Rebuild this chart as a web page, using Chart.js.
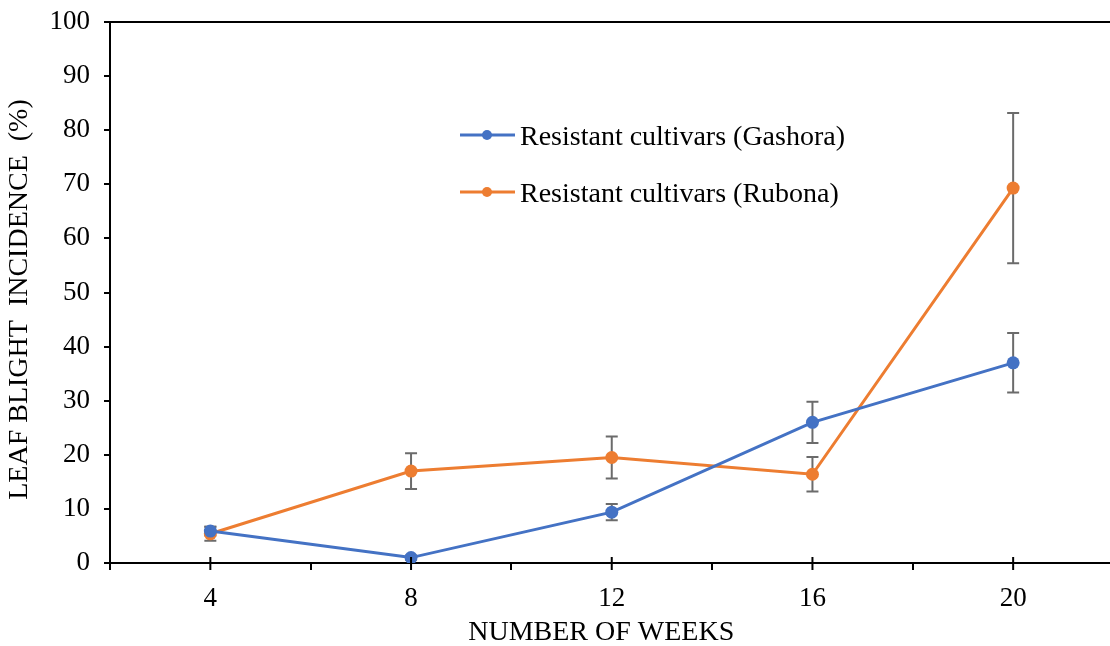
<!DOCTYPE html>
<html>
<head>
<meta charset="utf-8">
<script src="https://cdn.jsdelivr.net/npm/chart.js@4"></script>
<style>
  html, body { margin: 0; padding: 0; background: #fff; overflow: hidden; }
  #wrap { width: 1110px; height: 646px; overflow: hidden; }
</style>
</head>
<body>
<div id="wrap"><canvas id="chart" width="1120" height="646"></canvas></div>
<script>
const weeks = ['4', '8', '12', '16', '20'];
const gashora = [5.9, 1.0, 9.4, 26.0, 37.0];
const gashoraErr = [0.8, 0.4, 1.5, 3.8, 5.5];
const rubona = [5.4, 17.0, 19.5, 16.4, 69.3];
const rubonaErr = [1.3, 3.3, 3.9, 3.2, 13.9];
const yTicks = [0, 10, 20, 30, 40, 50, 60, 70, 80, 90, 100];

const serif = '"Liberation Serif", "Times New Roman", serif';

// error bars, drawn under the points
const errorBars = {
    id: 'errorBars',
    beforeDatasetsDraw(chart) {
        const ctx = chart.ctx;
        const y = chart.scales.y;
        ctx.save();
        ctx.strokeStyle = '#6b6b6b';
        ctx.lineWidth = 2;
        chart.data.datasets.forEach((ds, i) => {
            chart.getDatasetMeta(i).data.forEach((pt, j) => {
                const top = y.getPixelForValue(ds.data[j] + ds.errors[j]);
                const bot = y.getPixelForValue(ds.data[j] - ds.errors[j]);
                ctx.beginPath();
                ctx.moveTo(pt.x, top); ctx.lineTo(pt.x, bot);
                ctx.moveTo(pt.x - 6, top); ctx.lineTo(pt.x + 6, top);
                ctx.moveTo(pt.x - 6, bot); ctx.lineTo(pt.x + 6, bot);
                ctx.stroke();
            });
        });
        ctx.restore();
    }
};

// ticks crossing the x axis at each category
const crossTicks = {
    id: 'crossTicks',
    afterDraw(chart) {
        const ctx = chart.ctx;
        const x = chart.scales.x;
        const yb = chart.chartArea.bottom;
        ctx.save();
        ctx.strokeStyle = '#000';
        ctx.lineWidth = 2;
        weeks.forEach((w, i) => {
            const px = x.getPixelForValue(i);
            ctx.beginPath();
            ctx.moveTo(px, yb - 6);
            ctx.lineTo(px, yb + 7);
            ctx.stroke();
        });
        ctx.restore();
    }
};

// legend inside the plot
const insideLegend = {
    id: 'insideLegend',
    afterDraw(chart) {
        const ctx = chart.ctx;
        ctx.save();
        ctx.font = '28px ' + serif;
        ctx.textBaseline = 'middle';
        chart.data.datasets.forEach((ds, i) => {
            const yy = 135 + i * 57;
            const x0 = 460;
            ctx.strokeStyle = ds.borderColor;
            ctx.lineWidth = 3;
            ctx.beginPath(); ctx.moveTo(x0, yy); ctx.lineTo(x0 + 55, yy); ctx.stroke();
            ctx.fillStyle = ds.borderColor;
            ctx.beginPath(); ctx.arc(x0 + 27, yy, 5, 0, Math.PI * 2); ctx.fill();
            ctx.fillStyle = '#000';
            ctx.fillText(ds.label, x0 + 60, yy + 3);
        });
        ctx.restore();
    }
};

new Chart(document.getElementById('chart'), {
    type: 'line',
    data: {
        labels: weeks,
        datasets: [{
            label: 'Resistant cultivars (Gashora)',
            data: gashora,
            errors: gashoraErr,
            borderColor: '#4472C4',
            backgroundColor: '#4472C4',
            borderWidth: 3,
            pointRadius: 6.5,
            pointBorderWidth: 0,
            tension: 0
        }, {
            label: 'Resistant cultivars (Rubona)',
            data: rubona,
            errors: rubonaErr,
            borderColor: '#ED7D31',
            backgroundColor: '#ED7D31',
            borderWidth: 3,
            pointRadius: 6.5,
            pointBorderWidth: 0,
            tension: 0
        }]
    },
    options: {
        responsive: false,
        animation: false,
        layout: {padding: {top: 22, right: 2, left: 0, bottom: 0}},
        plugins: {legend: {display: false}, tooltip: {enabled: false}},
        scales: {
            x: {
                offset: true,
                grid: {offset: true, drawOnChartArea: false, color: '#000', tickLength: 7, lineWidth: 2},
                border: {color: '#000', width: 2},
                ticks: {color: '#000', font: {family: serif, size: 27}, padding: 13},
                title: {
                    display: true, text: 'NUMBER OF WEEKS   ', color: '#000',
                    font: {family: serif, size: 28}, padding: {top: 0, bottom: -3}
                },
                afterFit(s) { s.height = 83; }
            },
            y: {
                min: 0,
                max: 100,
                afterBuildTicks(s) { s.ticks = yTicks.map(v => ({value: v})); },
                grid: {
                    color: c => (c.tick && c.tick.value === 100 ? '#000' : 'rgba(0,0,0,0)'),
                    tickColor: '#000', tickLength: 6, lineWidth: 2
                },
                border: {color: '#000', width: 2},
                ticks: {color: '#000', font: {family: serif, size: 27, lineHeight: 0.5}, padding: 14},
                title: {
                    display: true, text: 'LEAF BLIGHT  INCIDENCE  (%)  ', color: '#000',
                    font: {family: serif, size: 28}, padding: {top: 3, bottom: 0}
                },
                afterFit(s) { s.width = 110; }
            }
        }
    },
    plugins: [errorBars, crossTicks, insideLegend]
});
</script>
</body>
</html>
